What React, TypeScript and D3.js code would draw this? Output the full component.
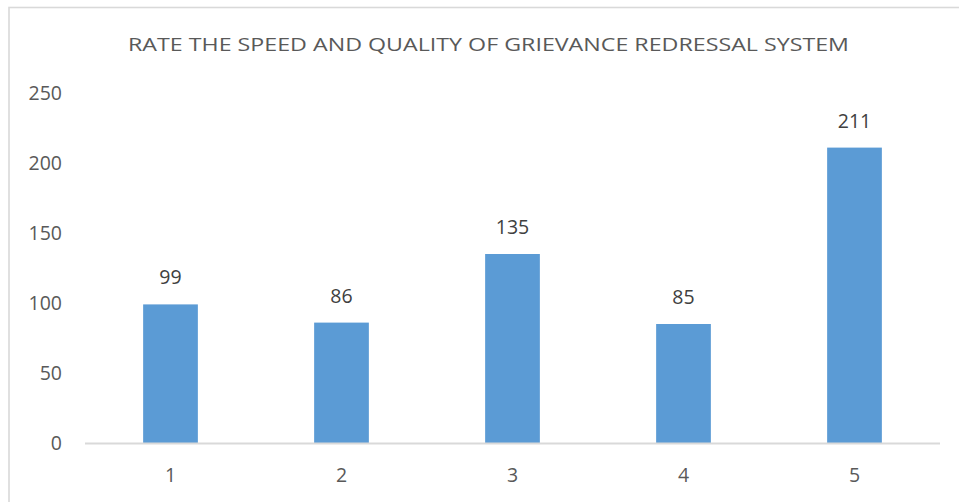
import React, { useEffect, useRef } from "react";
import * as d3 from "d3";

const categories = ["1", "2", "3", "4", "5"];
const values = [99, 86, 135, 85, 211];
const yTicks = [0, 50, 100, 150, 200, 250];
const title = "RATE THE SPEED AND QUALITY OF GRIEVANCE REDRESSAL SYSTEM";

const App = () => {
  const svgRef = useRef<SVGSVGElement>(null);

  useEffect(() => {
    const width = 959;
    const height = 502;
    const plot = { left: 85, right: 940, top: 93, bottom: 443 };

    const svg = d3
      .select(svgRef.current)
      .attr("width", width)
      .attr("height", height)
      .style("font-family", "'Open Sans', sans-serif")
      .style("background", "#fff");

    svg.selectAll("*").remove();

    // chart frame (runs off the right and bottom of the picture)
    svg
      .append("rect")
      .attr("x", 9)
      .attr("y", 7.5)
      .attr("width", 1000)
      .attr("height", 600)
      .attr("fill", "none")
      .attr("stroke", "#d9d9d9")
      .attr("stroke-width", 1.6);

    const x = d3
      .scaleBand()
      .domain(categories)
      .range([plot.left, plot.right])
      .paddingInner(0.68)
      .paddingOuter(0.34);

    const y = d3.scaleLinear().domain([0, 250]).range([plot.bottom, plot.top]);

    // title
    svg
      .append("text")
      .attr("x", 488.5)
      .attr("y", 51)
      .attr("text-anchor", "middle")
      .attr("textLength", 721)
      .attr("lengthAdjust", "spacingAndGlyphs")
      .style("font-size", "19px")
      .style("fill", "#595959")
      .text(title);

    // y tick labels
    svg
      .append("g")
      .selectAll("text")
      .data(yTicks)
      .join("text")
      .attr("x", 62)
      .attr("y", (d) => y(d) + 7)
      .attr("text-anchor", "end")
      .style("font-size", "19.5px")
      .style("fill", "#595959")
      .text((d) => d);

    // bars
    svg
      .append("g")
      .selectAll("rect")
      .data(values)
      .join("rect")
      .attr("x", (d, i) => x(categories[i])!)
      .attr("y", (d) => y(d))
      .attr("width", x.bandwidth())
      .attr("height", (d) => y(0) - y(d))
      .attr("fill", "#5b9bd5");

    // baseline
    svg
      .append("line")
      .attr("x1", plot.left)
      .attr("x2", plot.right)
      .attr("y1", y(0) + 0.5)
      .attr("y2", y(0) + 0.5)
      .attr("stroke", "#d9d9d9")
      .attr("stroke-width", 2);

    // value labels
    svg
      .append("g")
      .selectAll("text")
      .data(values)
      .join("text")
      .attr("x", (d, i) => x(categories[i])! + x.bandwidth() / 2)
      .attr("y", (d) => y(d) - 20)
      .attr("text-anchor", "middle")
      .style("font-size", "19.5px")
      .style("fill", "#404040")
      .text((d) => d);

    // x labels
    svg
      .append("g")
      .selectAll("text")
      .data(categories)
      .join("text")
      .attr("x", (d) => x(d)! + x.bandwidth() / 2)
      .attr("y", 482)
      .attr("text-anchor", "middle")
      .style("font-size", "19.5px")
      .style("fill", "#595959")
      .text((d) => d);
  }, []);

  return (
    <svg
      ref={svgRef}
      style={{ position: "absolute", left: 0, top: 0, display: "block" }}
    ></svg>
  );
};

export default App;
